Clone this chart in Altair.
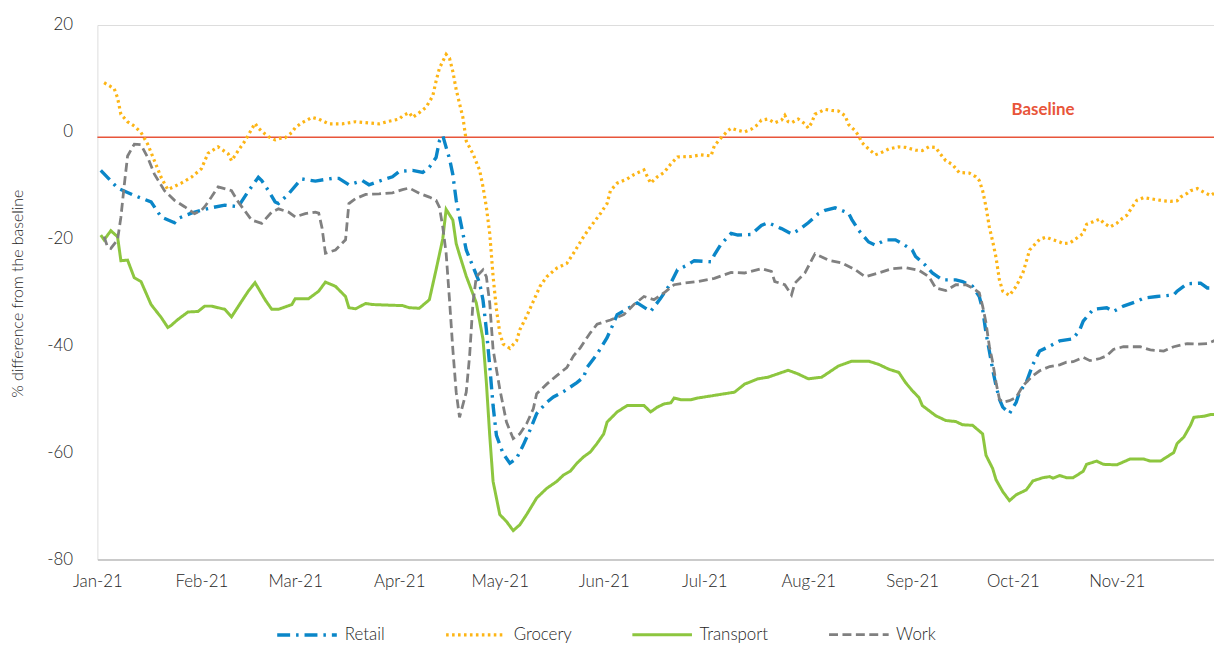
import altair as alt
import pandas as pd

START = pd.Timestamp("2021-01-01")

series_order = ["Retail", "Grocery", "Transport", "Work"]
series_colors = ["#0a86c8", "#fdb515", "#8dc63f", "#808080"]
series_dashes = [[13, 6, 2.5, 6], [2.6, 3.4], [1, 0], [9, 4.5]]
series_widths = [3.4, 2.8, 4.6, 3.6]

# days since 1 Jan 2021, and % difference from the baseline
retail_days = [1, 3, 6, 11, 16, 19, 23, 24, 28, 32, 34, 38, 42, 45, 48, 49, 51, 53, 54, 57,
               60, 61, 65, 70, 72, 75, 79, 81, 85, 88, 90, 94, 97, 99, 101, 102, 103, 104, 105, 106,
               107, 108, 110, 112, 114, 115, 116, 117, 118, 119, 121, 123, 125, 127, 129, 131, 134, 136, 139, 143,
               145, 146, 149, 152, 154, 155, 158, 161, 165, 168, 171, 173, 176, 178, 183, 184, 186, 189, 191, 195,
               198, 200, 204, 207, 209, 212, 215, 217, 220, 224, 225, 227, 230, 232, 235, 238, 240, 243, 244, 247,
               249, 252, 256, 258, 261, 263, 264, 265, 266, 267, 268, 269, 270, 272, 274, 275, 277, 279, 281, 284,
               287, 291, 293, 294, 297, 301, 303, 306, 310, 312, 316, 321, 322, 325, 329, 331, 332]
retail_vals = [-7.2, -8.5, -10.5, -11.9, -13.1, -15.9, -17.0, -16.2, -15.2, -14.5, -14.2, -13.7, -14.0, -11.1, -8.5, -9.1, -11.0, -13.1, -13.4, -11.6,
               -9.4, -8.8, -9.2, -8.7, -8.7, -9.9, -9.1, -9.9, -9.0, -8.4, -7.4, -7.2, -7.6, -6.6, -4.8, -1.7, -0.7, -2.9, -5.0, -8.0,
               -12.8, -15.9, -22.1, -25.2, -28.3, -31.5, -37.0, -43.8, -51.2, -56.8, -60.2, -62.0, -61.1, -58.6, -55.8, -52.7, -50.6, -49.6, -48.6, -46.9,
               -45.9, -44.1, -41.6, -38.5, -35.7, -34.2, -33.1, -32.0, -33.6, -31.1, -28.3, -25.8, -24.9, -24.1, -24.3, -23.0, -21.0, -19.0, -19.3, -19.2,
               -17.5, -17.0, -18.1, -19.1, -18.4, -17.0, -15.3, -14.7, -14.2, -15.2, -16.4, -18.4, -20.6, -21.2, -20.2, -20.2, -20.9, -22.1, -23.3, -25.0,
               -26.4, -27.7, -27.7, -28.0, -28.9, -30.8, -33.2, -37.6, -41.0, -44.5, -47.5, -50.0, -51.5, -52.7, -50.6, -48.7, -46.9, -43.5, -41.0, -40.1,
               -39.1, -38.7, -37.0, -35.4, -33.2, -32.9, -33.6, -32.6, -31.7, -31.1, -30.8, -30.5, -29.8, -28.4, -28.3, -29.2, -29.2]

grocery_days = [2, 5, 6, 7, 9, 11, 13, 15, 17, 19, 21, 25, 28, 31, 33, 36, 39, 40, 42, 44,
                46, 47, 48, 50, 51, 53, 55, 56, 58, 59, 61, 64, 66, 69, 73, 77, 84, 87, 90, 91,
                93, 94, 96, 98, 100, 101, 102, 104, 105, 106, 107, 109, 110, 112, 114, 115, 116, 117, 118, 119,
                120, 121, 123, 125, 126, 128, 130, 132, 134, 137, 140, 142, 145, 147, 150, 152, 153, 155, 158, 160,
                163, 165, 167, 169, 171, 173, 177, 180, 183, 184, 186, 188, 189, 191, 193, 195, 197, 198, 200, 202,
                204, 205, 206, 207, 209, 211, 212, 213, 214, 215, 217, 219, 221, 223, 224, 226, 227, 228, 230, 232,
                234, 236, 239, 241, 244, 246, 248, 250, 251, 253, 255, 257, 260, 262, 263, 264, 265, 266, 267, 268,
                269, 270, 272, 274, 276, 277, 278, 281, 283, 285, 287, 288, 290, 292, 294, 295, 297, 299, 300, 302,
                304, 305, 307, 309, 310, 312, 314, 316, 318, 320, 322, 323, 325, 326, 328, 330, 332, 333]
grocery_vals = [9.2, 8.1, 6.4, 3.3, 1.9, 1.1, -0.1, -2.3, -5.4, -8.5, -10.8, -9.6, -8.5, -6.9, -4.0, -2.8, -4.1, -5.4, -3.5, -1.7,
                0.5, 1.6, 0.7, -0.4, -0.9, -1.5, -1.1, -1.1, -0.1, 0.8, 1.7, 2.7, 2.4, 1.5, 1.5, 1.9, 1.5, 2.0, 2.4, 3.0,
                3.6, 2.7, 3.6, 4.6, 6.7, 9.5, 11.9, 14.5, 13.8, 11.3, 7.9, 2.7, -1.7, -4.1, -7.2, -10.3, -14.1, -19.0, -27.0, -33.2,
                -37.6, -39.7, -40.5, -39.1, -37.0, -34.5, -31.7, -28.9, -27.1, -25.5, -24.6, -22.7, -19.6, -17.8, -15.3, -13.4, -11.0, -9.6, -8.8, -8.0,
                -7.1, -9.6, -8.4, -7.6, -6.0, -4.7, -4.6, -4.3, -4.5, -2.6, -1.1, 0.2, 0.7, 0.3, 0.0, 0.5, 1.4, 2.2, 2.4, 1.7,
                2.2, 3.1, 1.9, 1.7, 2.4, 1.5, 0.7, 1.7, 3.3, 3.6, 4.2, 4.0, 3.9, 3.0, 1.4, 0.2, -0.7, -2.0, -3.2, -4.3,
                -3.8, -3.2, -2.8, -2.9, -3.4, -3.5, -2.8, -2.9, -3.8, -5.4, -6.1, -7.6, -7.7, -8.4, -9.1, -11.0, -14.0, -17.8, -20.5, -23.5,
                -27.7, -29.8, -30.6, -28.9, -26.4, -24.3, -22.1, -20.1, -19.7, -20.2, -20.6, -20.9, -20.8, -19.9, -19.0, -17.3, -16.8, -16.3, -17.0, -17.8,
                -17.1, -16.5, -15.6, -13.7, -12.8, -12.3, -12.5, -12.7, -12.9, -13.0, -12.9, -12.2, -11.5, -11.0, -10.6, -11.3, -11.9, -11.5]

transport_days = [1, 2, 4, 6, 7, 9, 11, 13, 16, 19, 21, 22, 24, 27, 30, 32, 34, 38, 40, 43,
                  45, 47, 50, 52, 54, 58, 59, 63, 66, 68, 71, 74, 75, 77, 80, 82, 86, 91, 93, 96,
                  99, 101, 103, 104, 106, 107, 108, 110, 113, 115, 116, 117, 118, 120, 122, 124, 126, 128, 131, 134,
                  137, 139, 141, 143, 145, 147, 149, 151, 152, 155, 158, 163, 165, 167, 169, 171, 172, 174, 177, 179,
                  190, 193, 197, 200, 206, 209, 212, 216, 221, 225, 230, 233, 236, 239, 241, 243, 245, 246, 250, 253,
                  256, 258, 261, 264, 265, 267, 268, 270, 272, 274, 277, 279, 282, 284, 285, 287, 289, 291, 294, 295,
                  298, 300, 304, 308, 312, 314, 317, 319, 321, 322, 324, 326, 327, 330, 332, 334]
transport_vals = [-19.3, -20.2, -18.5, -19.6, -24.1, -24.0, -27.3, -28.0, -32.3, -34.7, -36.6, -36.2, -35.1, -33.7, -33.6, -32.6, -32.6, -33.2, -34.6, -31.7,
                  -29.8, -28.2, -31.4, -33.2, -33.2, -32.3, -31.2, -31.2, -29.8, -28.1, -28.9, -30.8, -32.9, -33.1, -32.1, -32.3, -32.4, -32.5, -32.9, -33.0,
                  -31.4, -25.8, -20.0, -14.5, -16.5, -20.9, -23.0, -27.0, -32.0, -38.8, -46.9, -56.8, -65.4, -71.6, -72.9, -74.6, -73.5, -71.6, -68.5, -66.7,
                  -65.4, -64.2, -63.5, -62.0, -60.8, -59.9, -58.3, -56.5, -54.3, -52.4, -51.2, -51.2, -52.4, -51.5, -50.9, -50.7, -49.8, -50.1, -50.1, -49.8,
                  -48.7, -47.2, -46.2, -45.9, -44.6, -45.3, -46.2, -45.9, -43.8, -42.9, -42.9, -43.5, -44.4, -45.0, -46.9, -48.4, -49.7, -51.2, -53.1, -54.0,
                  -54.2, -54.8, -54.9, -56.5, -60.5, -63.0, -65.1, -67.3, -69.0, -67.9, -67.0, -65.3, -64.7, -64.5, -64.8, -64.3, -64.7, -64.7, -63.5, -62.2,
                  -61.6, -62.2, -62.3, -61.2, -61.2, -61.6, -61.6, -60.8, -60.0, -58.3, -57.1, -54.9, -53.4, -53.2, -52.9, -52.9]

work_days = [2, 3, 4, 6, 7, 8, 9, 11, 13, 15, 17, 20, 23, 26, 29, 31, 32, 34, 36, 40,
             42, 46, 49, 52, 54, 57, 59, 62, 65, 66, 67, 68, 71, 74, 75, 77, 80, 84, 88, 91,
             93, 96, 99, 101, 102, 103, 104, 105, 106, 107, 108, 110, 111, 112, 113, 115, 116, 117, 118, 120,
             122, 124, 126, 128, 130, 131, 134, 137, 140, 142, 144, 147, 149, 153, 157, 160, 163, 166, 169, 172,
             175, 179, 184, 189, 193, 198, 201, 202, 205, 207, 208, 211, 213, 214, 218, 222, 226, 229, 233, 237,
             241, 245, 248, 250, 253, 256, 259, 261, 263, 264, 265, 266, 267, 268, 269, 270, 272, 274, 276, 279,
             281, 284, 287, 289, 291, 294, 296, 299, 301, 303, 306, 311, 314, 318, 321, 325, 328, 331, 333, 334]
work_vals = [-19.6, -21.5, -21.8, -20.2, -16.0, -10.0, -4.5, -2.3, -2.4, -4.8, -7.9, -11.0, -12.8, -14.0, -15.3, -14.7, -14.0, -12.2, -10.3, -11.0,
             -13.1, -16.5, -17.1, -15.0, -14.4, -15.0, -15.9, -15.3, -15.0, -15.2, -18.0, -22.7, -22.1, -20.2, -13.4, -12.5, -11.7, -11.6, -11.4, -10.8,
             -10.5, -11.5, -12.2, -12.8, -14.1, -17.8, -22.7, -31.4, -40.7, -48.7, -53.4, -48.7, -41.9, -32.0, -27.1, -25.8, -27.1, -32.0, -40.7, -48.1,
             -54.3, -57.4, -56.5, -54.6, -51.8, -49.0, -47.2, -45.6, -44.1, -41.9, -40.4, -37.6, -36.0, -35.2, -34.2, -32.3, -30.8, -31.4, -30.1, -28.6,
             -28.3, -28.0, -27.4, -26.3, -26.4, -25.6, -26.1, -28.0, -28.6, -30.5, -28.3, -26.4, -24.0, -22.8, -24.0, -24.5, -25.8, -27.1, -26.4, -25.6,
             -25.4, -25.9, -27.1, -29.2, -29.7, -28.6, -28.6, -29.2, -30.1, -32.6, -35.7, -40.1, -43.1, -46.9, -50.0, -50.6, -50.3, -49.7, -47.5, -45.6,
             -44.7, -43.9, -43.6, -43.1, -43.0, -42.2, -42.8, -42.4, -41.9, -40.7, -40.2, -40.2, -40.8, -41.0, -40.2, -39.6, -39.7, -39.6, -39.1, -39.7]

baseline_value = [-1]
baseline_label = ["Baseline"]
baseline_label_day = [282]
baseline_label_value = [4.1]

y_ticks = [-80, -60, -40, -20, 0, 20]
month_ticks = list(range(1, 12))


def to_date(d):
    return (START + pd.Timedelta(days=int(d))).strftime("%Y-%m-%d")


def frame(name, days, vals):
    return pd.DataFrame({
        "date": [to_date(d) for d in days],
        "value": vals,
        "series": name,
    })


df = pd.concat([
    frame("Retail", retail_days, retail_vals),
    frame("Grocery", grocery_days, grocery_vals),
    frame("Transport", transport_days, transport_vals),
    frame("Work", work_days, work_vals),
], ignore_index=True)

FONT = "Lato"
TEXT = "#262626"

x_scale = alt.Scale(
    type="utc",
    domain=[alt.DateTime(year=2021, month=1, date=1, utc=True),
            alt.DateTime(year=2021, month=11, date=30, utc=True)],
)
y_scale = alt.Scale(domain=[-80, 20], nice=False, zero=False)

x_axis = alt.Axis(
    values=[alt.DateTime(year=2021, month=m, date=1, utc=True) for m in month_ticks],
    labelExpr="utcFormat(datum.value, '%b-%y')",
    labelFont=FONT, labelFontSize=17, labelColor=TEXT, labelFontWeight=300,
    labelAlign="center", labelFlush=False, labelPadding=14, ticks=False, grid=False,
    domain=True, domainColor="#bfbfbf", domainWidth=1.5, labelOverlap=False,
)
y_axis = alt.Axis(
    values=y_ticks, labelExpr="'' + datum.value", labelFont=FONT, labelFontSize=17,
    labelFontWeight=300, labelColor=TEXT, labelPadding=25,
    ticks=False, grid=False, domain=False,
    titleFont=FONT, titleFontSize=16, titleFontWeight=300, titleColor=TEXT,
    titleAngle=-90, titleX=-80, titleY=270, titleAlign="center", titleBaseline="middle",
)


def x_enc():
    return alt.X("date:T", scale=x_scale, title=None, axis=x_axis)


def y_enc():
    return alt.Y("value:Q", scale=y_scale, title="% difference from the baseline", axis=y_axis)


legend = alt.Legend(
    title=None, orient="none", legendX=179, legendY=582, direction="horizontal",
    symbolType="stroke", symbolSize=3600, labelFont=FONT, labelFontSize=17, labelColor=TEXT,
    labelFontWeight=300, labelOffset=6, columnPadding=54,
)

lines = alt.Chart(df).mark_line(interpolate="linear").encode(
    x=x_enc(),
    y=y_enc(),
    color=alt.Color("series:N", sort=series_order,
                    scale=alt.Scale(domain=series_order, range=series_colors), legend=legend),
    strokeDash=alt.StrokeDash("series:N", sort=series_order,
                              scale=alt.Scale(domain=series_order, range=series_dashes), legend=legend),
    strokeWidth=alt.StrokeWidth("series:N", sort=series_order,
                                scale=alt.Scale(domain=series_order, range=series_widths), legend=legend),
)

rule = alt.Chart(pd.DataFrame({"value": baseline_value})).mark_rule(
    color="#e8553a", strokeWidth=1.5
).encode(y=y_enc())

label_df = pd.DataFrame({
    "date": [to_date(d) for d in baseline_label_day],
    "value": baseline_label_value,
    "label": baseline_label,
})
label = alt.Chart(label_df).mark_text(
    font=FONT, fontSize=17, fontWeight="bold", color="#e8553a", align="center", baseline="middle"
).encode(x=x_enc(), y=y_enc(), text="label:N")

chart = alt.layer(rule, lines, label).properties(
    width=1124, height=538,
    padding={"left": 90, "top": 15, "right": 0, "bottom": 83},
    autosize=alt.AutoSizeParams(type="none"),
).configure_view(stroke=None).configure(background="white")

chart.save("out.html", embed_options={"renderer": "svg", "actions": False})
